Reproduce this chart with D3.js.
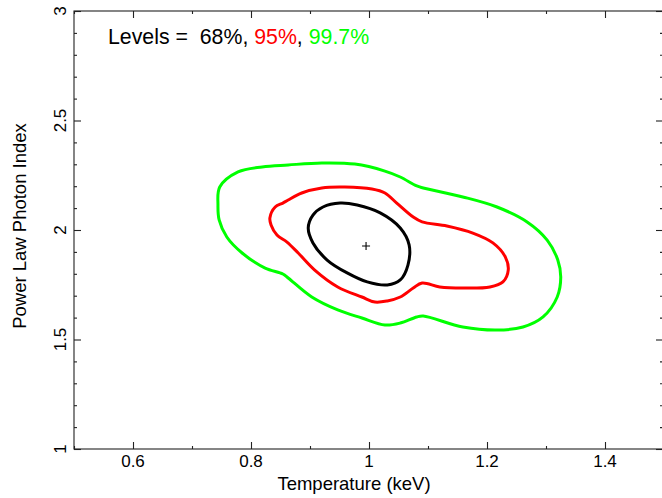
<!DOCTYPE html>
<html><head><meta charset="utf-8">
<script src="https://cdn.jsdelivr.net/npm/d3@7/dist/d3.min.js"></script>
<style>
html,body{margin:0;padding:0;background:#fff;}
svg{display:block;}
text{font-family:"Liberation Sans",Arial,Helvetica,sans-serif;fill:#000;}
</style></head>
<body>
<svg id="chart" width="662" height="498"></svg>
<script>
// ---- data ----
const xMajorTicks = [0.6, 0.8, 1.0, 1.2, 1.4];
const xMajorLabels = ["0.6", "0.8", "1", "1.2", "1.4"];
const xMinorTicks = [0.5, 0.7, 0.9, 1.1, 1.3, 1.5];
const yMajorTicks = [1, 1.5, 2, 2.5, 3];
const yMajorLabels = ["1", "1.5", "2", "2.5", "3"];
const yMinorTicks = [1.1,1.2,1.3,1.4,1.6,1.7,1.8,1.9,2.1,2.2,2.3,2.4,2.6,2.7,2.8,2.9];

const levelNames = ["68%", "95%", "99.7%"];
const levelColors = ["#000000", "#ff0000", "#00ff00"];

const bestFit = [0.995, 1.927];

// contour 68% (Temperature keV, Photon index)
const contour68 = [
 [0.897,2.009],[0.905,2.068],[0.922,2.105],[0.951,2.123],[0.980,2.114],[1.019,2.078],
 [1.053,2.009],[1.068,1.932],[1.066,1.840],[1.053,1.772],[1.031,1.749],[0.997,1.763],
 [0.963,1.804],[0.929,1.863],[0.905,1.941]
];
// contour 95%
const contour95 = [
 [0.832,2.055],[0.841,2.105],[0.854,2.123],[0.863,2.137],[0.886,2.169],[0.920,2.192],
 [0.959,2.196],[1.005,2.187],[1.027,2.169],[1.047,2.123],[1.075,2.059],[1.090,2.037],
 [1.132,2.018],[1.176,1.986],[1.210,1.941],[1.231,1.877],[1.236,1.817],[1.227,1.763],
 [1.205,1.740],[1.159,1.735],[1.120,1.740],[1.090,1.758],[1.075,1.735],[1.053,1.694],
 [1.031,1.676],[1.010,1.671],[0.988,1.694],[0.947,1.740],[0.908,1.817],[0.880,1.895],
 [0.861,1.945],[0.844,1.977],[0.834,2.023]
];
// contour 99.7%
const contour997 = [
 [0.747,2.196],[0.778,2.265],[0.819,2.288],[0.863,2.297],[0.920,2.306],[0.976,2.301],
 [1.027,2.269],[1.053,2.242],[1.081,2.201],[1.092,2.192],[1.159,2.151],[1.217,2.105],
 [1.268,2.037],[1.302,1.954],[1.320,1.863],[1.325,1.785],[1.319,1.694],[1.295,1.603],
 [1.261,1.557],[1.217,1.543],[1.159,1.557],[1.092,1.607],[1.081,1.603],[1.053,1.575],
 [1.027,1.566],[0.988,1.598],[0.947,1.635],[0.903,1.694],[0.863,1.781],[0.854,1.799],
 [0.824,1.826],[0.785,1.895],[0.759,1.968],[0.746,2.046],[0.744,2.114]
];

const xTitle = "Temperature (keV)";
const yTitle = "Power Law Photon Index";

// ---- drawing ----
const svg = d3.select("#chart");
const L = 74, R = 664, T = 11, B = 449;
const x = d3.scaleLinear().domain([0.5, 1.5]).range([L, R]);
const y = d3.scaleLinear().domain([1, 3]).range([B, T]);

const axisColor = "#222";
const axW = 1.1;

function styleAxis(g){
  g.select(".domain").remove();
  g.selectAll(".tick line").attr("stroke", axisColor).attr("stroke-width", axW);
  g.selectAll("text").remove();
}
// bottom
svg.append("g").attr("transform",`translate(0,${B})`)
  .call(d3.axisBottom(x).tickValues(xMajorTicks).tickSize(-7)).call(styleAxis);
svg.append("g").attr("transform",`translate(0,${B})`)
  .call(d3.axisBottom(x).tickValues(xMinorTicks).tickSize(-3)).call(styleAxis);
// top
svg.append("g").attr("transform",`translate(0,${T})`)
  .call(d3.axisTop(x).tickValues(xMajorTicks).tickSize(-7)).call(styleAxis);
svg.append("g").attr("transform",`translate(0,${T})`)
  .call(d3.axisTop(x).tickValues(xMinorTicks).tickSize(-3)).call(styleAxis);
// left
svg.append("g").attr("transform",`translate(${L},0)`)
  .call(d3.axisLeft(y).tickValues(yMajorTicks).tickSize(-7)).call(styleAxis);
svg.append("g").attr("transform",`translate(${L},0)`)
  .call(d3.axisLeft(y).tickValues(yMinorTicks).tickSize(-3)).call(styleAxis);
// right
svg.append("g").attr("transform",`translate(${R-1},0)`)
  .call(d3.axisRight(y).tickValues(yMajorTicks).tickSize(-7)).call(styleAxis);
svg.append("g").attr("transform",`translate(${R-1},0)`)
  .call(d3.axisRight(y).tickValues(yMinorTicks).tickSize(-3)).call(styleAxis);

// frame
svg.append("rect").attr("x",L).attr("y",T).attr("width",R-L-1).attr("height",B-T)
  .attr("fill","none").attr("stroke",axisColor).attr("stroke-width",axW);

// tick labels
svg.append("g").selectAll("text").data(xMajorTicks).join("text")
  .attr("x", d=>x(d)).attr("y", 467).attr("text-anchor","middle")
  .style("font-size","17px").text((d,i)=>xMajorLabels[i]);
svg.append("g").selectAll("text").data(yMajorTicks).join("text")
  .attr("transform", d=>`translate(65.5,${y(d)}) rotate(-90)`)
  .attr("text-anchor","middle").style("font-size","17px").text((d,i)=>yMajorLabels[i]);

// titles
svg.append("text").attr("x",354).attr("y",490).attr("text-anchor","middle")
  .style("font-size","18.5px").text(xTitle);
svg.append("text").attr("transform","translate(25.5,226) rotate(-90)")
  .attr("text-anchor","middle").style("font-size","18.5px").text(yTitle);

// contours
const line = d3.line().x(d=>x(d[0])).y(d=>y(d[1])).curve(d3.curveCatmullRomClosed.alpha(0.5));
const contours = [contour997, contour95, contour68];
const colors = [levelColors[2], levelColors[1], levelColors[0]];
svg.append("g").selectAll("path").data(contours).join("path")
  .attr("d", line).attr("fill","none")
  .attr("stroke",(d,i)=>colors[i]).attr("stroke-width",3).attr("stroke-linejoin","round");

// best fit cross
const bx = x(bestFit[0]), by = y(bestFit[1]);
svg.append("path").attr("d",`M${bx-4},${by}H${bx+4}M${bx},${by-4}V${by+4}`)
  .attr("stroke","#000").attr("stroke-width",1.1);

// levels legend
const lt = svg.append("text").attr("x",108).attr("y",44).style("font-size","21.3px")
  .attr("xml:space","preserve").style("white-space","pre");
lt.append("tspan").text("Levels =  ");
levelNames.forEach((n,i)=>{
  lt.append("tspan").style("fill",levelColors[i]).text(n);
  if(i<levelNames.length-1) lt.append("tspan").text(", ");
});
</script>
</body></html>
